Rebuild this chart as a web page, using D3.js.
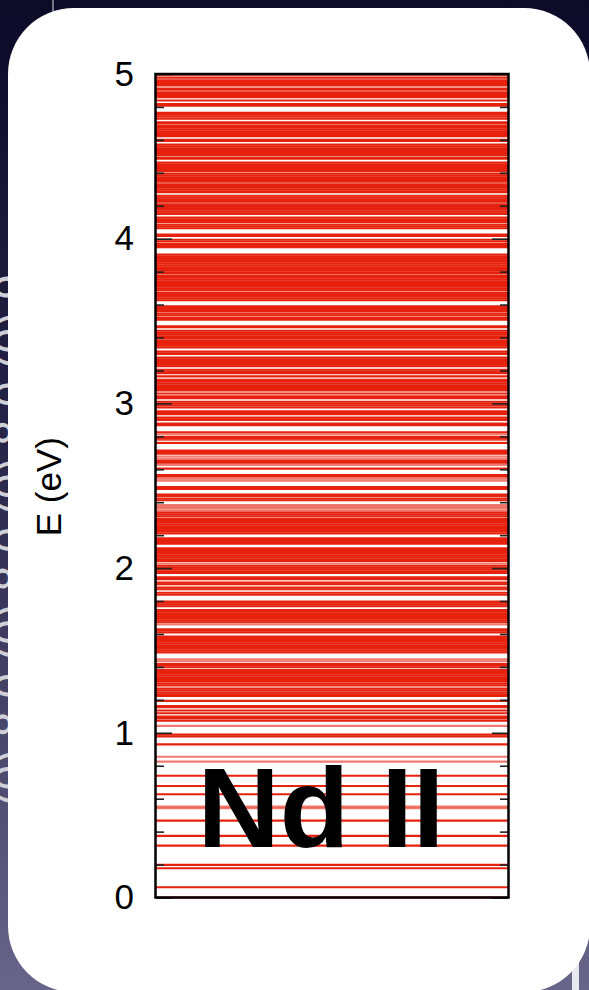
<!DOCTYPE html>
<html>
<head>
<meta charset="utf-8">
<script src="https://cdn.jsdelivr.net/npm/d3@7"></script>
<style>
  html, body { margin: 0; padding: 0; background: #0c0b2a; }
  svg { display: block; }
</style>
</head>
<body>
<svg id="svgContainer" width="589" height="990"></svg>
<script>
// energy levels (eV)
var levelsLow = [0.000, 0.062, 0.178, 0.198, 0.315, 0.374, 0.467, 0.627, 0.677, 0.739,
  0.930, 0.978, 0.990, 1.074, 1.089, 1.098, 1.119, 1.135, 1.155, 1.163, 1.194];

var levelsMid = [1.223, 1.234, 1.245, 1.257, 1.268, 1.288, 1.300, 1.315, 1.326, 1.337,
  1.348, 1.359, 1.370, 1.381, 1.398, 1.409, 1.417, 1.488, 1.499, 1.510, 1.521, 1.531,
  1.542, 1.553, 1.564, 1.575, 1.584, 1.610, 1.621, 1.629, 1.671, 1.682, 1.693, 1.704,
  1.715, 1.726, 1.737, 1.746, 1.768, 1.779, 1.790, 1.797, 1.838, 1.850, 1.872, 1.882,
  1.902, 1.912, 1.933, 1.944, 1.970, 1.981, 1.992, 2.003, 2.014, 2.043, 2.054, 2.065,
  2.076, 2.087, 2.098, 2.109, 2.120, 2.148, 2.159, 2.170, 2.181, 2.210, 2.221, 2.232,
  2.243, 2.254, 2.265, 2.276, 2.287, 2.298, 2.314, 2.325, 2.336, 2.412, 2.423, 2.438,
  2.447, 2.480, 2.492, 2.556, 2.565, 2.604, 2.640, 2.650, 2.694, 2.705, 2.714, 2.760,
  2.786, 2.796, 2.825];

var levelsHigh = [2.868, 2.878, 2.900, 2.903, 2.914, 2.935, 2.941, 2.952, 2.975, 2.988,
  2.999, 3.010, 3.032, 3.043, 3.060, 3.078, 3.088, 3.099, 3.110, 3.121, 3.132, 3.143,
  3.164, 3.184, 3.193, 3.204, 3.226, 3.235, 3.246, 3.257, 3.268, 3.279, 3.301, 3.304,
  3.315, 3.339, 3.350, 3.361, 3.372, 3.383, 3.398, 3.408, 3.419, 3.430, 3.441, 3.462,
  3.468, 3.508, 3.518, 3.534, 3.545, 3.560, 3.568, 3.579, 3.590, 3.626, 3.637, 3.648,
  3.659, 3.670, 3.686, 3.697, 3.708, 3.719, 3.730, 3.741, 3.752, 3.763, 3.774, 3.789,
  3.794, 3.805, 3.816, 3.827, 3.838, 3.849, 3.860, 3.871, 3.882, 3.893, 3.904, 3.948,
  3.956, 3.967, 3.983, 3.994, 4.016, 4.025, 4.063, 4.074, 4.085, 4.100, 4.107, 4.118,
  4.129, 4.151, 4.154, 4.165, 4.176, 4.187, 4.198, 4.209, 4.224, 4.228, 4.239, 4.250,
  4.261, 4.283, 4.287, 4.298, 4.309, 4.320, 4.331, 4.346, 4.351, 4.362, 4.373, 4.384,
  4.395, 4.411, 4.419, 4.430, 4.441, 4.452, 4.463, 4.485, 4.493, 4.508, 4.516, 4.527,
  4.538, 4.549, 4.560, 4.571, 4.593, 4.601, 4.623, 4.630, 4.641, 4.652, 4.663, 4.674,
  4.685, 4.700, 4.706, 4.729, 4.742, 4.753, 4.764, 4.807, 4.818, 4.839, 4.859, 4.867,
  4.878, 4.889, 4.904, 4.911, 4.931, 4.940, 4.951, 4.962, 4.978, 4.996];

// paler levels
var weakLevels = [0.542, 0.552, 0.825, 0.855, 1.042, 1.434, 1.447, 1.658, 2.028, 2.347,
  2.360, 2.372, 2.383, 2.530, 2.543, 2.627, 2.663, 2.678, 2.776, 2.812];

var majorTicks = [0, 1, 2, 3, 4, 5];
var minorTicks = [0.2, 0.4, 0.6, 0.8, 1.2, 1.4, 1.6, 1.8, 2.2, 2.4, 2.6, 2.8,
  3.2, 3.4, 3.6, 3.8, 4.2, 4.4, 4.6, 4.8];

var axisTitle = "E (eV)";
var ionLabel = "Nd II";
var backText = "(0) 8.0 (0) 8.0 (0) 8.0 (0) 9";

var xScale;
var yScale;
var svg;

function draw() {
  var left = 156, right = 508;
  var top = 74, bottom = 897.5;

  xScale = d3.scaleLinear().domain([0, 1]).range([left, right]);
  yScale = d3.scaleLinear().domain([0, 5]).range([bottom, top]);

  svg = d3.select('#svgContainer');

  drawBackground();

  var allLevels = levelsLow.concat(levelsMid, levelsHigh);

  var linesLayer = svg.append('g');

  linesLayer
    .selectAll('.level')
    .data(allLevels)
    .enter()
    .append('line')
    .attr('class', 'level')
    .attr('x1', xScale(0))
    .attr('x2', xScale(1))
    .attr('y1', d => yScale(d))
    .attr('y2', d => yScale(d))
    .style('stroke', '#e6220f')
    .style('stroke-width', 2.1);

  linesLayer
    .selectAll('.weak')
    .data(weakLevels)
    .enter()
    .append('line')
    .attr('class', 'weak')
    .attr('x1', xScale(0))
    .attr('x2', xScale(1))
    .attr('y1', d => yScale(d))
    .attr('y2', d => yScale(d))
    .style('stroke', '#e6220f')
    .style('stroke-opacity', 0.6)
    .style('stroke-width', 2.1);

  // ticks, pointing inward on both sides
  var leftMajor = d3.axisLeft(yScale).tickValues(majorTicks).tickSize(-16)
    .tickPadding(22).tickFormat(d3.format('d'));
  var leftMinor = d3.axisLeft(yScale).tickValues(minorTicks).tickSize(-8).tickFormat('');
  var rightMajor = d3.axisRight(yScale).tickValues(majorTicks).tickSize(-16).tickFormat('');
  var rightMinor = d3.axisRight(yScale).tickValues(minorTicks).tickSize(-8).tickFormat('');

  [[leftMajor, left], [leftMinor, left], [rightMajor, right], [rightMinor, right]].forEach(function (a) {
    var g = svg.append('g')
      .attr('transform', 'translate(' + a[1] + ',0)')
      .call(a[0]);
    g.select('.domain').remove();
    g.selectAll('line').style('stroke', '#222').style('stroke-width', 1.6);
    g.selectAll('text')
      .style('font-family', '"Liberation Sans", Arial, Helvetica, sans-serif')
      .style('font-size', '35px')
      .style('fill', '#000');
  });

  svg.append('rect')
    .attr('x', left - 0.5)
    .attr('y', top)
    .attr('width', right - left + 1)
    .attr('height', bottom - top)
    .style('fill', 'none')
    .style('stroke', '#000')
    .style('stroke-width', 2.5);

  svg.append('text')
    .attr('transform', 'translate(61,' + ((top + bottom) / 2 + 1) + ') rotate(-90)')
    .attr('text-anchor', 'middle')
    .style('font-family', '"Liberation Sans", Arial, Helvetica, sans-serif')
    .style('font-size', '35px')
    .style('fill', '#000')
    .text(axisTitle);

  svg.append('text')
    .attr('x', 321)
    .attr('y', 847)
    .attr('text-anchor', 'middle')
    .style('font-family', '"Liberation Sans", Arial, Helvetica, sans-serif')
    .style('font-weight', 'bold')
    .style('font-size', '114px')
    .style('fill', '#000')
    .text(ionLabel);
}

function drawBackground() {
  var defs = svg.append('defs');
  var grad = defs.append('linearGradient')
    .attr('id', 'bg')
    .attr('x1', 0).attr('y1', 0).attr('x2', 0).attr('y2', 1);
  grad.append('stop').attr('offset', '0%').attr('stop-color', '#0b0a27');
  grad.append('stop').attr('offset', '45%').attr('stop-color', '#262548');
  grad.append('stop').attr('offset', '100%').attr('stop-color', '#67658a');

  svg.append('rect')
    .attr('width', 589).attr('height', 990)
    .style('fill', 'url(#bg)');

  // slide text peeking out behind the panel
  svg.append('text')
    .attr('transform', 'translate(27,540) rotate(-90)')
    .attr('text-anchor', 'middle')
    .style('font-family', '"Liberation Sans", Arial, sans-serif')
    .style('font-size', '46px')
    .style('fill', '#cfcfd8')
    .text(backText);

  svg.append('line')
    .attr('x1', 53).attr('x2', 53).attr('y1', 0).attr('y2', 12)
    .style('stroke', '#9a9aaa').style('stroke-width', 1.5);

  svg.append('rect')
    .attr('x', 572).attr('y', 958).attr('width', 7).attr('height', 32)
    .style('fill', '#e8e8ee');

  svg.append('rect')
    .attr('x', 8)
    .attr('y', 8)
    .attr('width', 582)
    .attr('height', 984)
    .attr('rx', 66)
    .style('fill', '#fff');
}

draw();
</script>
</body>
</html>
